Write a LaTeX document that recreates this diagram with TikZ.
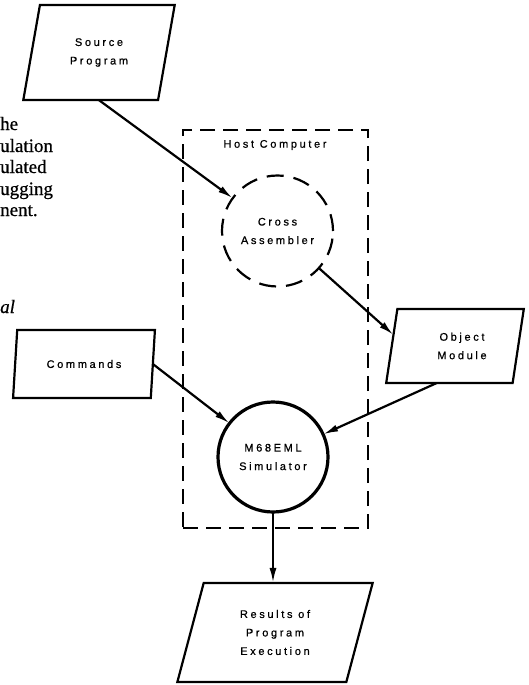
\documentclass[tikz,border=0pt]{standalone}
\usepackage{fontspec}
\setmainfont[FakeBold=0.6]{Liberation Serif}
\newfontfamily\lblfont[LetterSpace=24,FakeBold=0.7]{Liberation Sans}
\usetikzlibrary{shapes.geometric,arrows.meta,calc}
\begin{document}
\begin{tikzpicture}[x=1pt,y=-1pt,
  lbl/.style={font=\lblfont\fontsize{11}{18.5}\selectfont, align=center},
  frag/.style={font=\fontsize{19}{22}\selectfont, inner sep=0pt, anchor=base west},
  para/.style={draw, line width=2.2pt, trapezium, trapezium stretches=true,
    trapezium left angle=74, trapezium right angle=106,
    inner sep=0pt, outer sep=0pt, lbl},
  paraB/.style={para, trapezium left angle=77, trapezium right angle=103},
  hostbox/.style={draw, line width=2.2pt, dash pattern=on 15pt off 8pt,
    inner sep=0pt, outer sep=0pt},
  dcircle/.style={circle, draw, line width=2.2pt, dash pattern=on 17pt off 10pt,
    minimum size=111pt, inner sep=0pt, outer sep=0pt, lbl},
  scircle/.style={circle, draw, line width=3.2pt, minimum size=110pt,
    inner sep=0pt, outer sep=0pt, lbl},
  arr/.style={line width=2.2pt, -{Latex[length=15pt,width=7pt]}}
]
\useasboundingbox (0,0) rectangle (529,685);
\clip (0,0) rectangle (529,685);

% cropped body text at the left margin
\node[frag] (t1) at (0,130) {he};
\node[frag] (t2) at (0,152) {ulation};
\node[frag] (t3) at (0,173) {ulated};
\node[frag] (t4) at (0,195) {ugging};
\node[frag] (t5) at (0,216) {nent.};
\node[frag, font=\fontsize{19}{22}\selectfont\itshape] (t6) at (0,313) {al};

% host computer box
\node[hostbox, minimum width=185pt, minimum height=398pt] (host) at (275.5,329) {};
\node[lbl] (hostlbl) at (275,145) {Host Computer};

% parallelograms
\node[para, minimum width=152pt, minimum height=95pt] (src) at (99,52.5) {Source\\Program};
\node[para, minimum width=142pt, minimum height=68pt] (cmd) at (84,364) {Commands};
\node[paraB, minimum width=138pt, minimum height=74pt] (obj) at (455,346) {\hspace*{14pt}Object\\\hspace*{14pt}Module};
\node[para, minimum width=196pt, minimum height=99pt] (res) at (275,632.5) {Results of\\Program\\Execution};

% circles
\node[dcircle] (cross) at (277.5,231) {Cross\\Assembler};
\node[scircle] (sim) at (273,457) {M68EML\\Simulator};

% connectors
\draw[arr] ($(src.bottom left corner)!0.56!(src.bottom right corner)$) -- (cross);
\draw[arr] (cross) -- ($(obj.top left corner)!0.35!(obj.bottom left corner)$);
\draw[arr] (cmd.right side) -- (sim);
\draw[arr] ($(obj.bottom left corner)!0.4!(obj.bottom right corner)$) -- (sim);
\draw[arr] (sim.south) -- (sim.south |- res.north);
\end{tikzpicture}
\end{document}
